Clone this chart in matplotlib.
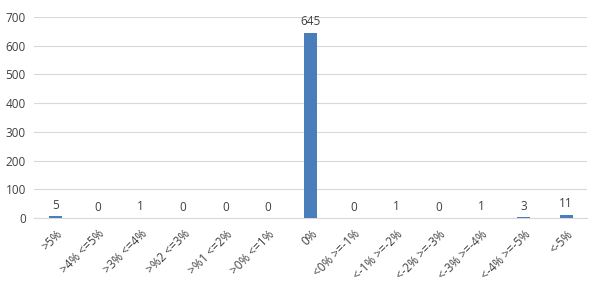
import matplotlib.pyplot as plt

categories = ['>5%', '>4% <=5%', '>3% <=4%', '>%2 <=3%', '>%1 <=2%', '>0% <=1%',
              '0%', '<0% >=-1%', '<-1% >=-2%', '<-2% >=-3%', '<-3% >=-4%',
              '<-4% >=-5%', '<-5%']
counts = [5, 0, 1, 0, 0, 0, 645, 0, 1, 0, 1, 3, 11]
y_ticks = [0, 100, 200, 300, 400, 500, 600, 700]

plt.rcParams['font.family'] = ['Open Sans', 'DejaVu Sans']

fig = plt.figure(figsize=(6, 2.83), dpi=100)
ax = fig.add_axes([0.057, 0.23, 0.922, 0.71])

x = range(len(categories))
ax.bar(x, counts, width=0.3, color='#4a7ebb', zorder=3)
for xi, v in zip(x, counts):
    ax.text(xi, v + 15, str(v), ha='center', va='bottom', fontsize=8.5,
            color='#404040')

ax.set_ylim(0, 700)
ax.set_xlim(-0.5, len(categories) - 0.5)
ax.set_yticks(y_ticks)
ax.set_xticks(list(x))
ax.set_xticklabels(categories, rotation=45, ha='right',
                   rotation_mode='anchor', fontsize=8.5, color='#404040')
ax.tick_params(axis='y', labelsize=8.5, colors='#404040', length=0, pad=6)
ax.tick_params(axis='x', length=0, pad=7)
ax.grid(axis='y', color='#d9d9d9', linewidth=0.8, zorder=0)
for s in ['top', 'right', 'left']:
    ax.spines[s].set_visible(False)
ax.spines['bottom'].set_color('#d9d9d9')

plt.savefig('out.png')
